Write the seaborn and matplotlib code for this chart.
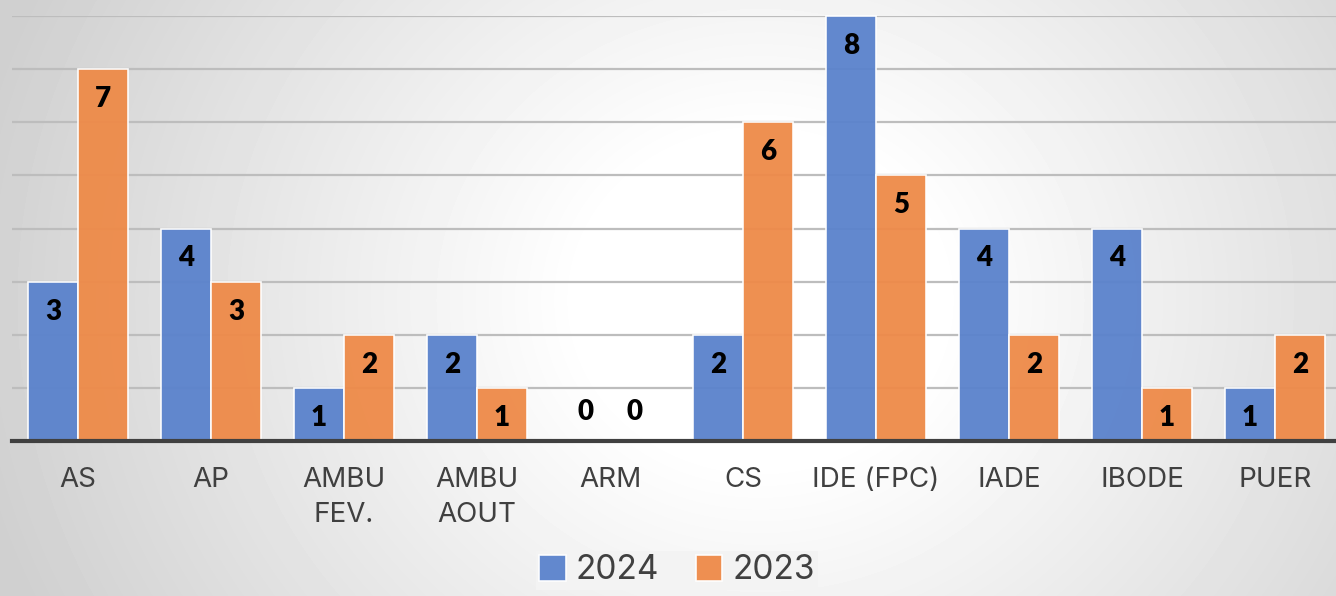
import numpy as np
import pandas as pd
import matplotlib
matplotlib.use("Agg")
import matplotlib.pyplot as plt
import seaborn as sns

categories = ["AS", "AP", "AMBU\nFEV.", "AMBU\nAOUT", "ARM", "CS", "IDE (FPC)", "IADE", "IBODE", "PUER"]
values_2024 = [3, 4, 1, 2, 0, 2, 8, 4, 4, 1]
values_2023 = [7, 3, 2, 1, 0, 6, 5, 2, 1, 2]
series = ["2024", "2023"]
colors = ["#5A82CC", "#EE8A48"]

df = pd.DataFrame({
    "cat": categories * 2,
    "val": values_2024 + values_2023,
    "year": [series[0]] * len(categories) + [series[1]] * len(categories),
})

sns.set_theme(style="white")
plt.rcParams["font.family"] = ["Inter", "DejaVu Sans"]

W, H = 1336, 596
fig = plt.figure(figsize=(W / 100, H / 100), dpi=100)

# radial gradient background
bg = fig.add_axes([0, 0, 1, 1], zorder=-10)
yy, xx = np.mgrid[0:H, 0:W]
d = np.sqrt(((xx - 760) / 1.0) ** 2 + ((yy - 300) / 0.9) ** 2)
t = np.clip((d - 180) / 620, 0, 1)
g = 1.0 - t * (1.0 - 0.815)
bg.imshow(g, cmap="gray", vmin=0, vmax=1, aspect="auto", extent=[0, W, H, 0])
bg.set_axis_off()

ax = fig.add_axes([11.5 / W, (H - 441) / H, 1330 / W, 425 / H])
ax.patch.set_alpha(0)

sns.barplot(data=df, x="cat", y="val", hue="year", palette=colors, width=0.75,
            gap=0.0, ax=ax, saturation=1, alpha=0.95, edgecolor=(1, 1, 1, 0.45),
            linewidth=1.2, legend=True, zorder=3)

ax.set_xlim(-0.5, 9.5)
ax.set_ylim(0, 8)
ax.set_yticks(range(1, 9))
ax.yaxis.grid(True, color="#BDBDBD", linewidth=1.6, zorder=1)
ax.set_axisbelow(True)
ax.tick_params(axis="y", left=False, labelleft=False)
ax.tick_params(axis="x", bottom=False, pad=13, labelsize=20, labelcolor="#404040")
for lbl in ax.get_xticklabels():
    lbl.set_linespacing(1.45)
ax.set_xlabel("")
ax.set_ylabel("")
for s in ["top", "right", "left"]:
    ax.spines[s].set_visible(False)
ax.spines["bottom"].set_color("#404040")
ax.spines["bottom"].set_linewidth(3)
ax.spines["bottom"].set_zorder(5)

for container in ax.containers:
    for bar in container:
        v = bar.get_height()
        xc = bar.get_x() + bar.get_width() / 2
        off = -30 if v > 0 else 29
        ax.annotate(f"{int(round(v))}", (xc, v), xytext=(0, off * 0.72),
                    textcoords="offset points", ha="center", va="center",
                    fontsize=20, fontweight="heavy", color="black",
                    family=["Lato", "DejaVu Sans"], zorder=6, annotation_clip=False)
    for bar in container:
        bar.set_clip_on(False)

handles, labels = ax.get_legend_handles_labels()
ax.get_legend().remove()
leg = fig.legend(handles, labels, loc="upper center",
                 bbox_to_anchor=(677 / W, 1 - 551 / H), ncol=2, frameon=True,
                 fontsize=24, labelcolor="#404040", handlelength=0.8,
                 handleheight=0.8, handletextpad=0.3, columnspacing=1.1,
                 borderpad=0.1, borderaxespad=0.0, fancybox=False)
leg.get_frame().set_facecolor("#F3F3F3")
leg.get_frame().set_edgecolor("none")
leg.get_frame().set_alpha(1)

fig.savefig("out.png", dpi=100)
